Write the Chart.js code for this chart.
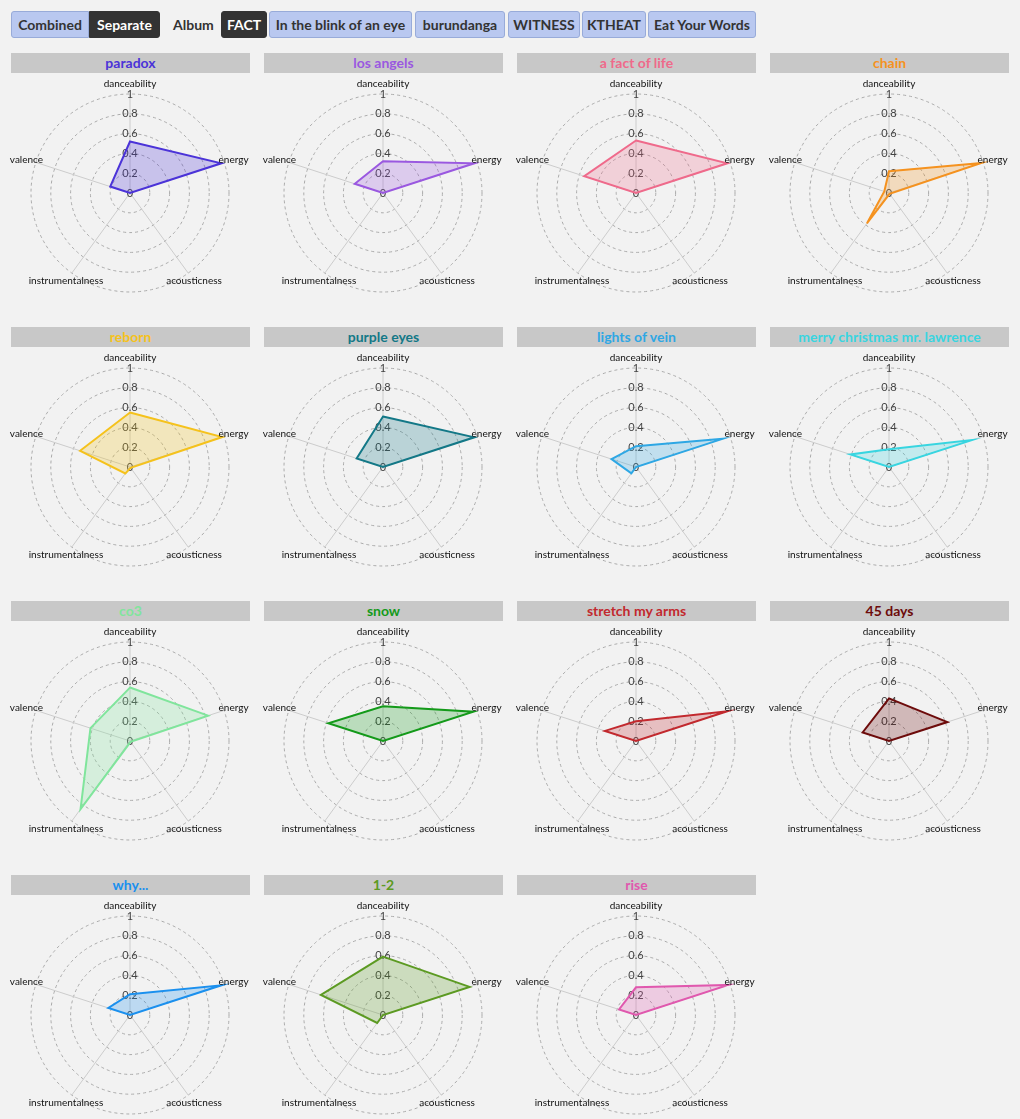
<!DOCTYPE html>
<html>
<head>
<meta charset="utf-8">
<script src="https://cdn.jsdelivr.net/npm/chart.js@4.4.0/dist/chart.umd.min.js"></script>
<style>
body { margin: 0; background: #f2f2f2; font-family: Lato, "Open Sans", sans-serif; }
#wrap { position: relative; width: 1020px; height: 1119px; overflow: hidden; }
.btn { position: absolute; top: 11px; height: 27px; line-height: 26px; box-sizing: border-box;
       font-weight: bold; font-size: 14px; text-align: center; color: #333;
       background: #b9c8f0; border: 1px solid #98abd9; border-radius: 3px; }
.btn.on { background: #333; color: #fff; border-color: #333; }
.lbl { position: absolute; top: 11px; line-height: 27px; font-weight: bold; font-size: 14px; color: #333; }
.title { position: absolute; width: 239px; height: 20px; line-height: 20px; background: #c8c8c8;
         text-align: center; font-weight: bold; font-size: 14px; }
canvas { position: absolute; }
</style>
</head>
<body>
<div id="wrap">
  <div class="btn" style="left:11px;width:78px;border-radius:3px 0 0 3px;">Combined</div>
  <div class="btn on" style="left:89px;width:71px;border-radius:0 3px 3px 0;">Separate</div>
  <div class="lbl" style="left:173px;">Album</div>
  <div class="btn on" style="left:221px;width:46px;">FACT</div>
  <div class="btn" style="left:269px;width:143px;">In the blink of an eye</div>
  <div class="btn" style="left:415px;width:90px;">burundanga</div>
  <div class="btn" style="left:508px;width:72px;">WITNESS</div>
  <div class="btn" style="left:582px;width:64px;">KTHEAT</div>
  <div class="btn" style="left:648px;width:108px;">Eat Your Words</div>
</div>
<script>
const features = ['danceability', 'energy', 'acousticness', 'instrumentalness', 'valence'];
const songs = ['paradox', 'los angels', 'a fact of life', 'chain', 'reborn', 'purple eyes', 'lights of vein',
    'merry christmas mr. lawrence', 'co3', 'snow', 'stretch my arms', '45 days', 'why...', '1-2', 'rise'];
const danceability     = [0.52, 0.32, 0.53, 0.22, 0.55, 0.51, 0.21, 0.18, 0.54, 0.35, 0.20, 0.43, 0.21, 0.59, 0.28];
const energy           = [0.97, 0.97, 0.97, 0.98, 0.98, 0.97, 0.92, 0.88, 0.83, 0.96, 0.97, 0.62, 0.97, 0.92, 0.98];
const acousticness     = [0.00, 0.00, 0.00, 0.01, 0.01, 0.00, 0.00, 0.00, 0.01, 0.00, 0.00, 0.00, 0.00, 0.00, 0.00];
const instrumentalness = [0.00, 0.00, 0.00, 0.38, 0.08, 0.00, 0.08, 0.00, 0.85, 0.00, 0.00, 0.00, 0.00, 0.10, 0.00];
const valence          = [0.21, 0.30, 0.55, 0.05, 0.53, 0.28, 0.26, 0.41, 0.42, 0.58, 0.33, 0.28, 0.23, 0.66, 0.18];
const tickValues = [0, 0.2, 0.4, 0.6, 0.8, 1];

const colors = ['#4b33d8', '#9a58e0', '#ef6a8b', '#f5921f', '#f5c21c', '#137887', '#2ea7e4',
    '#38d5e0', '#80e59c', '#149a1a', '#c2292e', '#6d0b0b', '#1b90ee', '#5c9a22', '#e058ae'];

Chart.defaults.font.family = 'Lato, "Open Sans", sans-serif';

function hexToRgba(hex, a) {
    const n = parseInt(hex.slice(1), 16);
    return 'rgba(' + (n >> 16) + ',' + ((n >> 8) & 255) + ',' + (n & 255) + ',' + a + ')';
}

// axis names sit centred just outside the outer ring
const centredLabels = {
    id: 'centredLabels',
    afterDraw(chart) {
        const scale = chart.scales.r;
        const ctx = chart.ctx;
        ctx.save();
        ctx.font = '10px ' + Chart.defaults.font.family;
        ctx.fillStyle = '#111';
        ctx.textAlign = 'center';
        ctx.textBaseline = 'middle';
        chart.data.labels.forEach((label, i) => {
            const p = scale.getPointPosition(i, scale.drawingArea * 1.1);
            ctx.fillText(label, p.x, p.y);
        });
        ctx.restore();
    }
};

const wrap = document.getElementById('wrap');

function draw_song(i) {
    const col = i % 4, row = Math.floor(i / 4);
    const title = document.createElement('div');
    title.className = 'title';
    title.style.left = (11 + 253 * col) + 'px';
    title.style.top = (53 + 274 * row) + 'px';
    title.style.color = colors[i];
    title.textContent = songs[i];
    wrap.appendChild(title);

    const canvas = document.createElement('canvas');
    canvas.width = 253;
    canvas.height = 240;
    canvas.style.left = (253 * col) + 'px';
    canvas.style.top = (73 + 274 * row) + 'px';
    wrap.appendChild(canvas);

    new Chart(canvas.getContext('2d'), {
        type: 'radar',
        data: {
            labels: features,
            datasets: [{
                data: [danceability[i], energy[i], acousticness[i], instrumentalness[i], valence[i]],
                borderColor: colors[i],
                backgroundColor: hexToRgba(colors[i], 0.25),
                borderWidth: 2,
                pointRadius: 0,
                fill: true
            }]
        },
        options: {
            responsive: false,
            animation: false,
            devicePixelRatio: 1,
            layout: { padding: { left: 23, right: 16, top: 13, bottom: 13 } },
            plugins: { legend: { display: false }, tooltip: { enabled: false } },
            scales: {
                r: {
                    min: 0,
                    max: 1,
                    afterBuildTicks: (scale) => {
                        scale.ticks = tickValues.map(v => ({ value: v }));
                        // first tick is skipped by Chart.js, so repeat 0 to get its label drawn
                        scale.ticks.unshift({ value: 0 });
                    },
                    ticks: {
                        showLabelBackdrop: false,
                        color: '#444',
                        font: { size: 11 },
                        callback: v => String(Math.round(v * 10) / 10)
                    },
                    grid: { circular: true, color: '#aaa', lineWidth: 1, borderDash: [3, 3] },
                    border: { dash: [3, 3] },
                    angleLines: { color: '#ccc', lineWidth: 1 },
                    pointLabels: { display: false }
                }
            }
        },
        plugins: [centredLabels]
    });
}

songs.forEach((s, i) => draw_song(i));
</script>
</body>
</html>
